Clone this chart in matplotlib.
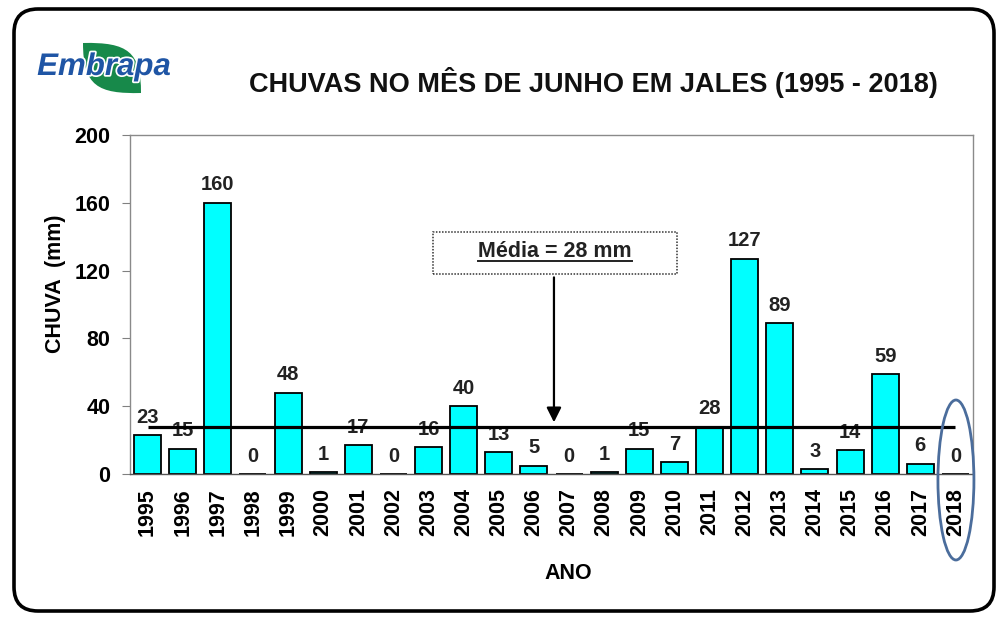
import matplotlib
matplotlib.use("Agg")
import matplotlib.pyplot as plt
import numpy as np
from matplotlib.patches import FancyBboxPatch, Ellipse, Rectangle, PathPatch
from matplotlib.path import Path
import matplotlib.patheffects as pe

plt.rcParams["font.family"] = ["Liberation Sans", "DejaVu Sans"]
plt.rcParams["font.weight"] = "bold"

# data
anos = [str(a) for a in range(1995, 2019)]
chuva = [23, 15, 160, 0, 48, 1, 17, 0, 16, 40, 13, 5, 0, 1, 15, 7,
         28, 127, 89, 3, 14, 59, 6, 0]
media = 28
y_ticks = [0, 40, 80, 120, 160, 200]
titulo = "CHUVAS NO MÊS DE JUNHO EM JALES (1995 - 2018)"

W, H = 997, 617
fig = plt.figure(figsize=(W / 100, H / 100), dpi=100)
fig.patch.set_facecolor("white")

ax = fig.add_axes([130 / W, 1 - 474 / H, 843 / W, 339 / H])
x = np.arange(len(anos))
bars = ax.bar(x, chuva, width=0.77, color="#00FFFF", edgecolor="black",
              linewidth=1.3, zorder=2)
for xi, v in zip(x, chuva):
    ax.annotate(str(v), (xi, v), xytext=(0, 6), textcoords="offset points",
                ha="center", va="bottom", fontsize=14.5, fontweight="bold",
                color="#222222")

# mean line across the years
ax.hlines(media, x[0], x[-1], colors="black", linewidth=2.3, zorder=3)

ax.set_xlim(-0.5, len(anos) - 0.5)
ax.set_ylim(0, 200)
ax.set_yticks(y_ticks)
ax.set_xticks(x)
ax.set_xticklabels(anos, rotation=90, fontsize=15.5, fontweight="bold")
ax.tick_params(axis="x", length=0, pad=10)
ax.tick_params(axis="y", length=6, color="#808080", labelsize=15.5, pad=8)
for lbl in ax.get_yticklabels():
    lbl.set_fontweight("bold")
for s in ax.spines.values():
    s.set_color("#8a8a8a")
    s.set_linewidth(1.0)
ax.spines["bottom"].set_color("#555555")

ax.set_ylabel("CHUVA  (mm)", fontsize=15.5, fontweight="bold")
ax.yaxis.set_label_coords(-0.076, 0.56)
ax.set_xlabel("ANO", fontsize=15.5, fontweight="bold")
ax.xaxis.set_label_coords(0.52, -0.262)

# mean annotation box and arrow
box_x0, box_x1, box_y0, box_y1 = 8.13, 15.07, 118, 143
ax.add_patch(Rectangle((box_x0, box_y0), box_x1 - box_x0, box_y1 - box_y0,
                       fill=False, edgecolor="#333333", linestyle=(0, (1, 1)),
                       linewidth=1.1, clip_on=False, zorder=4))
cx = (box_x0 + box_x1) / 2
txt = ax.text(cx, (box_y0 + box_y1) / 2 + 1, f"Média = {media} mm", ha="center",
              va="center", fontsize=15.5, fontweight="bold", color="#222222",
              zorder=5)
ax.annotate("", xy=(11.57, media + 2.5), xytext=(11.57, box_y0 - 2),
            arrowprops=dict(arrowstyle="-|>", color="black", lw=1.6,
                            mutation_scale=22, shrinkA=0, shrinkB=0), zorder=5)

# underline the mean text
fig.canvas.draw()
bb = txt.get_window_extent().transformed(ax.transData.inverted())
ax.plot([bb.x0, bb.x1], [bb.y0 + 0.6, bb.y0 + 0.6], color="#222222",
        linewidth=1.4, zorder=5)

# overlay in pixel coordinates for frame, logo, ellipse
ov = fig.add_axes([0, 0, 1, 1], zorder=10)
ov.set_xlim(0, W)
ov.set_ylim(H, 0)
ov.axis("off")
ov.patch.set_alpha(0)

ov.add_patch(FancyBboxPatch((14, 9), 980, 602,
                            boxstyle="round,pad=0,rounding_size=24",
                            fill=False, edgecolor="black", linewidth=2.6))

title_x = (130 + 973) / 2 + 42
ov.text(title_x, 82, titulo, ha="center", va="center", fontsize=19.5,
        fontweight="bold", color="#111111")

# embrapa logo
leaf = Path([(83, 43), (128, 42), (141, 52), (141, 93),
             (98, 94), (83, 86), (83, 43)],
            [Path.MOVETO, Path.CURVE4, Path.CURVE4, Path.CURVE4,
             Path.CURVE4, Path.CURVE4, Path.CURVE4])
ov.add_patch(PathPatch(leaf, facecolor="#17894a", edgecolor="none"))
ov.text(104, 67, "Embrapa", ha="center", va="center", fontsize=22.5,
        fontweight="bold", fontstyle="italic", color="#1f55a5",
        path_effects=[pe.withStroke(linewidth=2.5, foreground="white")])

# ellipse highlighting the last year
px = ax.transData.transform((x[-1], 0))[0]
ov.add_patch(Ellipse((px + 0.5, 480), 36, 160, fill=False,
                     edgecolor="#4b6d9c", linewidth=2.0))

fig.savefig("out.png", dpi=100)
